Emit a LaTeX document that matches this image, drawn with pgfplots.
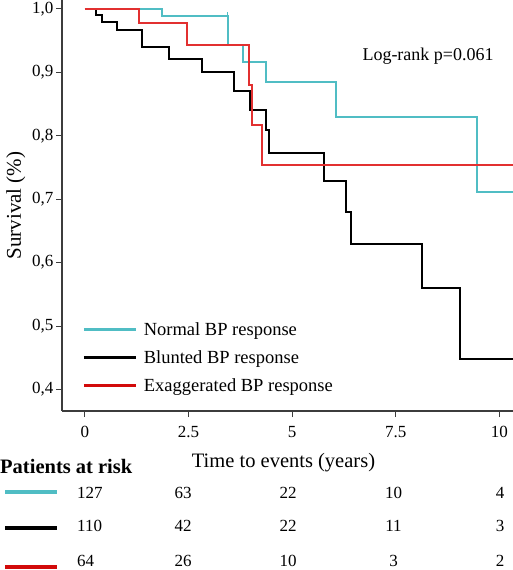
\documentclass[border=0pt]{standalone}
\usepackage{fontspec}
\setmainfont{Liberation Serif}
\usepackage{pgfplots}
\pgfplotsset{compat=1.18}
\definecolor{kmcyan}{RGB}{80,189,196}
\definecolor{kmred}{RGB}{226,48,48}
\definecolor{kmredleg}{RGB}{210,10,10}
\definecolor{axgray}{RGB}{60,60,60}
\begin{document}
\begin{tikzpicture}[x=1pt,y=1pt]
\useasboundingbox (0,0) rectangle (513,570);
\begin{axis}[
  at={(62pt,159pt)}, anchor=south west,
  scale only axis, width=451pt, height=411pt,
  xmin=-0.555, xmax=10.33, ymin=0.366, ymax=1.014,
  axis x line=bottom, axis y line=left,
  axis line style={-, draw=axgray, line width=1.5pt},
  tick style={draw=axgray, line width=1pt},
  tick align=outside, major tick length=6pt,
  xtick={0,2.5,5,7.5,10}, xticklabels={0,2.5,5,7.5,10},
  ytick={0.4,0.5,0.6,0.7,0.8,0.9,1.0},
  yticklabel style={/pgf/number format/use comma, /pgf/number format/fixed, /pgf/number format/fixed zerofill, /pgf/number format/precision=1},
  /pgf/number format/assume math mode=true,
  ticklabel style={font=\fontsize{17}{20}\selectfont},
  xticklabel style={yshift=-6pt},
  yticklabel style={xshift=1pt},
  xlabel={Time to events (years)},
  xlabel style={font=\fontsize{20.5}{23}\selectfont, yshift=-8pt, xshift=-4pt},
  ylabel={Survival (\%)},
  ylabel style={font=\fontsize{21}{24}\selectfont},
  legend cell align=left,
  legend style={at={(axis cs:-0.07,0.509)}, anchor=north west, draw=none, fill=none,
    font=\fontsize{18.5}{21}\selectfont, row sep=9.5pt, inner sep=0pt},
  legend image code/.code={\draw[#1, line width=3pt] (0pt,0pt) -- (52pt,0pt); \path (57pt,0pt);},
  clip=true,
]
\addplot[kmcyan, line width=2pt, const plot] coordinates {
 (0,1.0) (1.85,0.988) (3.45,0.943) (3.82,0.916) (4.36,0.884) (6.07,0.829) (9.47,0.711) (10.33,0.711)};
\addlegendentry{Normal BP response}
\addplot[black, line width=2pt, const plot] coordinates {
 (0,1.0) (0.27,0.991) (0.40,0.979) (0.77,0.967) (1.38,0.940) (2.03,0.921) (2.82,0.900)
 (3.59,0.871) (3.98,0.840) (4.38,0.809) (4.45,0.773) (5.77,0.728) (6.29,0.679)
 (6.43,0.630) (8.14,0.560) (9.05,0.448) (10.33,0.448)};
\addlegendentry{Blunted BP response}
\addplot[kmred, line width=2pt, const plot, forget plot] coordinates {
 (0,1.0) (1.30,0.978) (2.47,0.943) (3.96,0.880) (4.02,0.817) (4.27,0.754) (10.33,0.754)};
\addlegendimage{kmredleg}
\addlegendentry{Exaggerated BP response}
\addplot[kmcyan, only marks, mark=|, mark size=4pt, line width=1pt, forget plot] coordinates {(3.44,0.988)};
\node[font=\fontsize{18}{21}\selectfont] at (axis cs:8.28,0.926) {Log-rank p=0.061};
\end{axis}
% Patients at risk table
\node[anchor=west, font=\fontsize{20.5}{23}\selectfont\bfseries, inner sep=0pt] at (0,104) {Patients at risk};
\draw[kmcyan, line width=4pt] (5,78) -- (57,78);
\draw[black, line width=4pt] (5,42.3) -- (57,42.3);
\draw[kmredleg, line width=4pt] (5,3.3) -- (57,3.3);
\begin{scope}[every node/.style={font=\fontsize{17}{20}\selectfont, inner sep=0pt}]
\node[anchor=west] at (77,77) {127};
\node at (183,77) {63};
\node at (288,77) {22};
\node at (393.5,77) {10};
\node at (500,77) {4};
\node[anchor=west] at (77,44) {110};
\node at (183,44) {42};
\node at (288,44) {22};
\node at (393.5,44) {11};
\node at (500,44) {3};
\node[anchor=west] at (77,9) {64};
\node at (183,9) {26};
\node at (288,9) {10};
\node at (393.5,9) {3};
\node at (500,9) {2};
\end{scope}
\end{tikzpicture}
\end{document}
